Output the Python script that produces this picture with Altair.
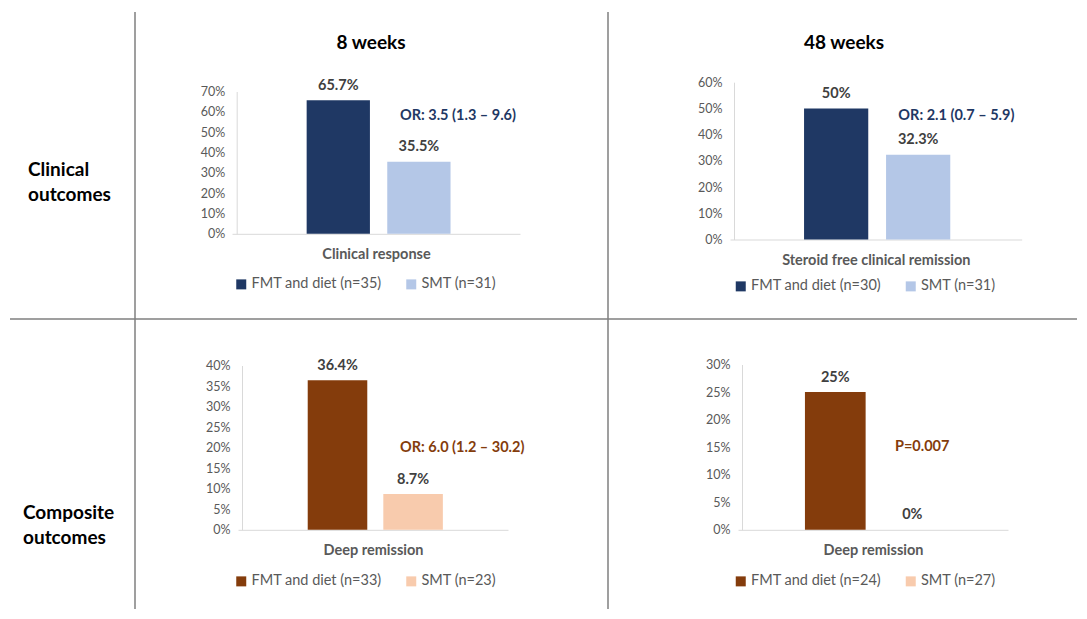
import altair as alt
import pandas as pd

FONT = "Lato"

# ---------------- data ----------------
ROW_LABELS = [["Clinical", "outcomes"], ["Composite", "outcomes"]]
COL_TITLES = ["8 weeks", "48 weeks"]
GROUPS = ["FMT and diet", "SMT"]
OUTCOMES = ["Clinical response", "Steroid free clinical remission", "Deep remission", "Deep remission"]
VALUES = [[65.7, 35.5], [50, 32.3], [36.4, 8.7], [25, 0]]
N_COUNTS = [[35, 31], [30, 31], [33, 23], [24, 27]]
Y_MAX = [70, 60, 40, 30]
Y_STEP = [10, 10, 5, 5]
ANNOTATIONS = ["OR: 3.5 (1.3 – 9.6)", "OR: 2.1 (0.7 – 5.9)", "OR: 6.0 (1.2 – 30.2)", "P=0.007"]
ANNOT_Y = [58, 47, 20, 15]
PALETTES = [["#1F3864", "#B4C7E7"], ["#843C0C", "#F8CBAD"]]

# ---------------- layout (pixels inside each cell) ----------------
LAYOUT = [
    dict(w=473, h=311, xr=[97, 385], yr=[225.8, 83.5], pi=0.215, po=0.894, al=0.518, yax=101.7, lx=99, ly=269, adx=12.7),
    dict(w=469, h=311, xr=[122, 413.7], yr=[231.5, 74.2], pi=0.217, po=0.887, al=0.509, yax=126, lx=125.5, ly=271, adx=12.3),
    dict(w=473, h=290, xr=[103, 373], yr=[210.8, 46.5], pi=0.212, po=0.892, al=0.517, yax=107, lx=99, ly=255, adx=16.7),
    dict(w=469, h=290, xr=[130, 400], yr=[210.8, 45.5], pi=0.212, po=0.859, al=0.506, yax=134, lx=125.5, ly=255, adx=13),
]
LABEL_W = 127
ROW_H = [311, 290]
LINE_COLOR = "#7F7F7F"
LINE_W = 1.5
ONE = pd.DataFrame({"k": [0]})


def panel(i):
    L = LAYOUT[i]
    row, col = divmod(i, 2)
    legend_labels = [f"{g} (n={n})" for g, n in zip(GROUPS, N_COUNTS[i])]
    df = pd.DataFrame({"group": GROUPS, "legend": legend_labels, "value": VALUES[i]})
    ticks = list(range(0, Y_MAX[i] + 1, Y_STEP[i]))

    x = alt.X(
        "group:N", sort=GROUPS,
        scale=alt.Scale(domain=GROUPS, range=L["xr"], paddingInner=L["pi"],
                        paddingOuter=L["po"], align=L["al"]),
        axis=alt.Axis(title=OUTCOMES[i], labels=False, ticks=False, domainColor="#D9D9D9",
                      domainWidth=1, offset=-(L["h"] - L["yr"][0]), titleFont=FONT,
                      titleFontSize=14.5, titleFontWeight="bold", titleColor="#595959",
                      titlePadding=13.5),
    )
    y = alt.Y(
        "value:Q",
        scale=alt.Scale(domain=[0, Y_MAX[i]], range=L["yr"], nice=False),
        axis=alt.Axis(values=ticks, tickCount=len(ticks) + 2,
                      labelExpr="datum.value + '%'", grid=False, ticks=False,
                      labelOverlap=False, labelBound=False,
                      domainColor="#D9D9D9", labelColor="#595959", labelFont=FONT,
                      labelFontSize=12.5, labelPadding=12, offset=-L["yax"], title=None),
    )
    color = alt.Color(
        "legend:N", sort=legend_labels,
        scale=alt.Scale(domain=legend_labels, range=PALETTES[row]),
        legend=alt.Legend(title=None, orient="none", legendX=L["lx"], legendY=L["ly"],
                          direction="horizontal", symbolType="square", symbolSize=100,
                          symbolStrokeWidth=0, labelFont=FONT, labelFontSize=14.5,
                          labelColor="#595959", labelOffset=3, columnPadding=22, padding=0),
    )
    base = alt.Chart(df)
    bars = base.mark_bar().encode(x=x, y=y, color=color)
    vals = base.transform_calculate(label="datum.value + '%'").mark_text(
        dy=-14.5, baseline="middle", font=FONT, fontWeight="bold", fontSize=14.5, color="#404040"
    ).encode(x=alt.X("group:N"), y=alt.Y("value:Q"), text="label:N")

    adf = pd.DataFrame({"group": ["SMT"], "value": [ANNOT_Y[i]], "text": [ANNOTATIONS[i]]})
    annot = alt.Chart(adf).mark_text(
        align="left", baseline="middle", dx=L["adx"], font=FONT, fontWeight="bold",
        fontSize=14.5, color=PALETTES[row][0]
    ).encode(x=alt.X("group:N", bandPosition=0), y=alt.Y("value:Q"), text="text:N")

    layers = [bars, vals, annot]

    vline = alt.Chart(ONE).mark_rule(color=LINE_COLOR, strokeWidth=LINE_W).encode(
        x=alt.value(0), y=alt.value(4 if row == 0 else 0), y2=alt.value(L["h"]))
    layers.append(vline)
    if row == 0:
        tdf = pd.DataFrame({"t": [COL_TITLES[col]]})
        title = alt.Chart(tdf).mark_text(
            align="center", baseline="middle", font=FONT, fontWeight="bold", fontSize=19, color="#000000"
        ).encode(x=alt.value(236), y=alt.value(35), text="t:N")
        layers.append(title)
    else:
        hline = alt.Chart(ONE).mark_rule(color=LINE_COLOR, strokeWidth=LINE_W).encode(
            x=alt.value(0), x2=alt.value(L["w"]), y=alt.value(0))
        layers.append(hline)

    return alt.layer(*layers).properties(width=L["w"], height=L["h"])


def label_cell(r):
    pos = [(20, 168), (15, 199.5)][r]
    txt = alt.Chart(ONE).mark_text(
        align="left", baseline="alphabetic", font=FONT, fontSize=19, fontWeight="bold",
        color="#000000", lineHeight=25
    ).encode(x=alt.value(pos[0]), y=alt.value(pos[1]), text=alt.value(ROW_LABELS[r]))
    layers = [txt]
    if r == 1:
        layers.append(alt.Chart(ONE).mark_rule(color=LINE_COLOR, strokeWidth=LINE_W).encode(
            x=alt.value(2), x2=alt.value(LABEL_W), y=alt.value(0)))
    return alt.layer(*layers).properties(width=LABEL_W, height=ROW_H[r])


chart = alt.concat(
    label_cell(0), panel(0), panel(1),
    label_cell(1), panel(2), panel(3),
    columns=3, spacing=0, bounds="flush",
).resolve_scale(
    x="independent", y="independent", color="independent"
).properties(padding=0).configure(
    font=FONT, view=alt.ViewConfig(strokeWidth=0, stroke="transparent")
)

chart.save("out.html", embed_options={"renderer": "svg", "actions": False})
